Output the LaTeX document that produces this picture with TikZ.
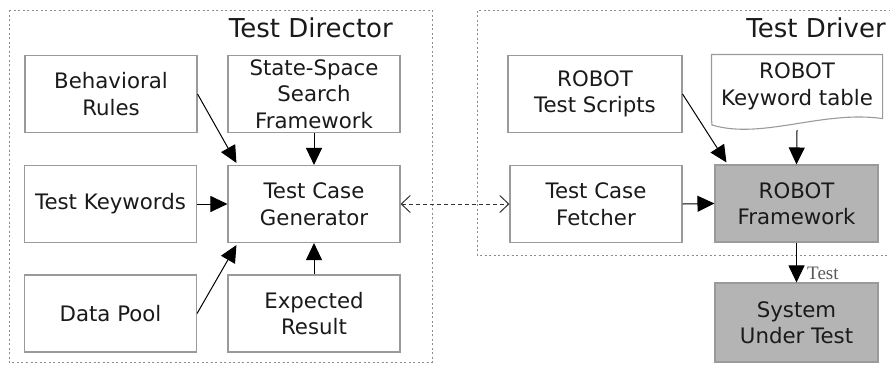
\documentclass[tikz,border=0pt]{standalone}
\usepackage{fontspec}
\setmainfont{DejaVu Sans}
\newfontfamily\labelfont{Liberation Serif}
\usetikzlibrary{arrows.meta,calc}
\definecolor{txt}{HTML}{1A1A1A}
\definecolor{edge}{HTML}{9A9A9A}
\definecolor{darkfill}{HTML}{B4B4B4}
\definecolor{frame}{HTML}{8C8C8C}
\tikzset{
  box/.style={draw=edge, line width=1.1pt, fill=white, text=txt, align=center,
    inner sep=0pt, minimum width=172pt, minimum height=77pt,
    font=\fontsize{21.3}{26.5}\selectfont},
  shadedbox/.style={box, fill=darkfill, minimum width=163pt},
  flow/.style={draw=black, line width=1pt, -{Triangle[length=17pt,width=16pt]}},
  link/.style={draw=black!80, line width=1pt, dash pattern=on 4pt off 3pt,
    {Straight Barb[length=9pt,width=17pt,line width=1pt]}-{Straight Barb[length=9pt,width=17pt,line width=1pt]}},
  group/.style={draw=frame, line width=1pt, dash pattern=on 2pt off 2.5pt},
  grouptitle/.style={text=txt, anchor=base east, inner sep=0pt,
    font=\fontsize{26}{30}\selectfont},
}
\begin{document}
\begin{tikzpicture}[x=1pt, y=-1pt]
\useasboundingbox (0,0) rectangle (890,365);

% groups
\draw[group] (9,10) rectangle (432,362);
\draw[group] (895,10) -- (477,10) -- (477,255) -- (895,255);
\node[grouptitle] (tdir) at (393,37) {Test Director};
\node[grouptitle] (tdrv) at (886,37) {Test Driver};

% Test Director blocks
\node[box] (beh) at (111,94) {Behavioral\\Rules};
\node[box] (ssf) at (314,94) {State-Space\\Search\\Framework};
\node[box] (tkw) at (110.5,204) {Test Keywords};
\node[box] (tcg) at (314,204) {Test Case\\Generator};
\node[box] (dp)  at (110.5,313.5) {Data Pool};
\node[box] (er)  at (314,313.5) {Expected\\Result};

% Test Driver blocks
\node[box, minimum width=174pt] (rts) at (595,94) {ROBOT\\Test Scripts};
\node[box, draw=none, fill=none, minimum width=170pt, minimum height=63pt] (rkt) at (797,86.5) {ROBOT\\Keyword table};
\draw[draw=edge, line width=1.1pt] (rkt.south west) |- (rkt.north east) -- (rkt.south east)
  .. controls (822,110) and (762,140) .. (712,125) -- (rkt.south west);
\coordinate (rktb) at (797,130);
\node[box] (tcf) at (596,204) {Test Case\\Fetcher};
\node[shadedbox] (rfw) at (796.5,203.5) {ROBOT\\Framework};
\node[shadedbox, minimum height=79pt] (sut) at (796.5,322.5) {System\\Under Test};

% flows inside Test Director
\draw[flow] (beh.east) -- ($(tcg.north west)+(9,-2)$);
\draw[flow] (ssf.south) -- (tcg.north);
\draw[flow] (tkw.east) -- (tcg.west);
\draw[flow] (dp.east) -- ($(tcg.south west)+(9,2)$);
\draw[flow] (er.north) -- (tcg.south);

% link between the two groups
\draw[link] (tcg.east) -- (tcf.west);

% flows inside Test Driver
\draw[flow] (rts.east) -- ($(rfw.north west)+(12,-2)$);
\draw[flow] (rktb) -- (rfw.north);
\draw[flow] (tcf.east) -- (rfw.west);
\draw[flow] (rfw.south) -- (sut.north);
\node[anchor=base west, inner sep=0pt, text=black!65, font=\labelfont\fontsize{19}{22}\selectfont] (lbl) at (807,279) {Test};
\end{tikzpicture}
\end{document}
